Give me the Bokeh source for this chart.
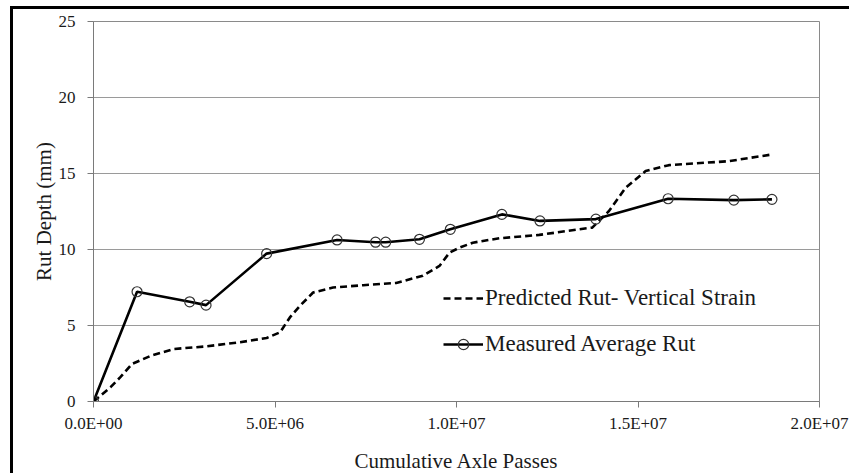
from bokeh.plotting import figure
from bokeh.models import Legend, LegendItem, FixedTicker, Range1d
from bokeh.embed import file_html
from bokeh.resources import INLINE

# Predicted rut (vertical strain model), mm vs cumulative axle passes
pred_x = [0, 0.47e6, 0.74e6, 1.06e6, 1.57e6, 2.2e6, 3.12e6, 4.04e6, 4.77e6, 5.14e6,
          5.41e6, 5.69e6, 6.05e6, 6.6e6, 7.43e6, 8.34e6, 9.07e6, 9.53e6, 9.81e6,
          10.08e6, 10.45e6, 11.18e6, 12.28e6, 13.38e6, 13.74e6, 14.2e6, 14.66e6,
          15.21e6, 15.85e6, 17.5e6, 18.69e6]
pred_y = [0, 0.94, 1.6, 2.47, 3.0, 3.45, 3.63, 3.9, 4.18, 4.55,
          5.53, 6.3, 7.17, 7.5, 7.65, 7.8, 8.27, 8.92, 9.8,
          10.12, 10.45, 10.74, 10.96, 11.33, 11.44, 12.53, 14.06,
          15.16, 15.55, 15.81, 16.25]

# Measured average rut
meas_x = [0, 1.2e6, 2.65e6, 3.10e6, 4.77e6, 6.71e6, 7.77e6, 8.05e6, 8.98e6,
          9.83e6, 11.25e6, 12.30e6, 13.84e6, 15.83e6, 17.64e6, 18.69e6]
meas_y = [0, 7.22, 6.56, 6.34, 9.73, 10.63, 10.48, 10.48, 10.67,
          11.33, 12.31, 11.88, 12.0, 13.34, 13.25, 13.30]

x_ticks = [0, 5e6, 1e7, 1.5e7, 2e7]
x_tick_labels = ["0.0E+00", "5.0E+06", "1.0E+07", "1.5E+07", "2.0E+07"]
y_ticks = [0, 5, 10, 15, 20, 25]

series_names = ["Predicted Rut- Vertical Strain", "Measured Average Rut"]

FONT = "Liberation Serif"

p = figure(frame_width=726, frame_height=380,
           min_border_left=80, min_border_top=12, min_border_right=30, min_border_bottom=68,
           x_range=Range1d(0, 2e7), y_range=Range1d(0, 25),
           output_backend="svg", toolbar_location=None,
           background_fill_color="white", border_fill_color="white")
p.styles = {"border-left": "3px solid black", "border-top": "3px solid black",
            "margin-left": "10px", "margin-top": "6px"}

p.outline_line_color = "#8a8a8a"
p.outline_line_width = 1

p.xgrid.grid_line_color = None
p.ygrid.grid_line_color = "#9a9a9a"
p.ygrid.grid_line_width = 1

p.xaxis.ticker = FixedTicker(ticks=x_ticks)
p.xaxis.major_label_overrides = {t: l for t, l in zip(x_ticks, x_tick_labels)}
p.yaxis.ticker = FixedTicker(ticks=y_ticks)

for ax in (p.xaxis[0], p.yaxis[0]):
    ax.axis_line_color = "#7a7a7a"
    ax.major_tick_line_color = "#7a7a7a"
    ax.minor_tick_line_color = None
    ax.major_tick_in = 0
    ax.major_tick_out = 6
    ax.major_label_text_font = FONT
    ax.major_label_text_font_size = "17px"
    ax.major_label_text_color = "#1a1a1a"
    ax.axis_label_text_font = FONT
    ax.axis_label_text_font_size = "21px"
    ax.axis_label_text_font_style = "normal"
    ax.axis_label_text_color = "#1a1a1a"

p.xaxis.major_label_standoff = 6
p.xaxis.axis_label = "Cumulative Axle Passes"
p.xaxis.axis_label_standoff = 13
p.yaxis.major_label_standoff = 12
p.yaxis.axis_label = "Rut Depth (mm)"
p.yaxis.axis_label_standoff = 0

r_pred = p.line(pred_x, pred_y, line_color="black", line_width=2.6, line_dash="7 4")
r_meas = p.line(meas_x, meas_y, line_color="black", line_width=2.6)
r_pts = p.scatter(meas_x, meas_y, marker="circle", size=10, fill_color=None,
                  line_color="#333333", line_width=1.2)

legend = Legend(items=[LegendItem(label=series_names[0], renderers=[r_pred]),
                       LegendItem(label=series_names[1], renderers=[r_meas, r_pts])],
                location=(350, 44), orientation="vertical",
                background_fill_alpha=0, border_line_color=None,
                padding=0, margin=0, spacing=20,
                glyph_width=40, glyph_height=26, label_height=26, label_standoff=2,
                label_text_font=FONT, label_text_font_size="23px",
                label_text_color="#1a1a1a")
p.add_layout(legend, "center")

open("out.html", "w").write(file_html(p, INLINE))
